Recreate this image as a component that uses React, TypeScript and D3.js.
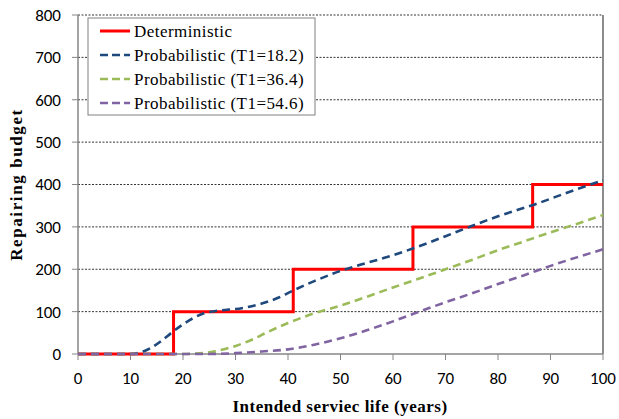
import React from "react";
import * as d3 from "d3";

const xTicks = [0, 10, 20, 30, 40, 50, 60, 70, 80, 90, 100];
const yTicks = [0, 100, 200, 300, 400, 500, 600, 700, 800];

const deterministic: [number, number][] = [
  [0, 0], [18.2, 0], [18.2, 100], [41.0, 100], [41.0, 200], [63.8, 200], [63.8, 300], [86.6, 300], [86.6, 400], [100, 400],
];
const prob182: [number, number][] = [
  [0, 0], [5, 0], [10, 0], [12, 4], [14, 15], [16, 32], [18, 52], [20, 70], [22, 85], [24, 96], [26, 101], [28, 104],
  [30, 106], [32, 110], [35, 119], [38, 132], [41, 150], [45, 172], [50, 196], [55, 215], [60, 233], [64, 250],
  [70, 278], [75, 302], [80, 325], [87, 353], [93, 380], [100, 410],
];
const prob364: [number, number][] = [
  [0, 0], [19, 0], [22, 1], [25, 4], [28, 12], [30, 19], [33, 33], [36, 51], [40, 73], [45, 96], [50, 114],
  [55, 135], [60, 157], [65, 178], [70, 200], [75, 222], [80, 245], [85, 266], [90, 287], [95, 307], [100, 328],
];
const prob546: [number, number][] = [
  [0, 0], [25, 0], [30, 2], [35, 6], [40, 11], [45, 22], [50, 37], [55, 56], [60, 77], [65, 100], [70, 122],
  [75, 143], [80, 165], [85, 186], [90, 208], [95, 228], [100, 247],
];

const seriesNames = ["Deterministic", "Probabilistic (T1=18.2)", "Probabilistic (T1=36.4)", "Probabilistic (T1=54.6)"];
const seriesColors = ["#FF0000", "#1F497D", "#9BBB59", "#8064A2"];

export default function App() {
  const W = 619, H = 419;
  const left = 78, right = 603, top = 15, bottom = 354;
  const x = d3.scaleLinear().domain([0, 100]).range([left, right]);
  const y = d3.scaleLinear().domain([0, 800]).range([bottom, top]);
  const lineStep = d3.line<[number, number]>().x(d => x(d[0])).y(d => y(d[1]));
  const lineCurve = d3.line<[number, number]>().x(d => x(d[0])).y(d => y(d[1])).curve(d3.curveMonotoneX);
  const tickFont = "Carlito";
  const serif = "Liberation Serif";

  return (
    <svg width={W} height={H} style={{ position: "absolute", left: 0, top: 0, background: "#fff" }}>
      <rect x={0} y={0} width={W} height={H} fill="#fff" />
      {/* gridlines */}
      {yTicks.filter(t => t > 0).map(t => (
        <line key={t} x1={left} x2={right} y1={y(t)} y2={y(t)} stroke="#000" strokeWidth={0.8} strokeDasharray="2,1.5" />
      ))}
      {/* right border */}
      <line x1={right} x2={right} y1={top} y2={bottom} stroke="#404040" strokeWidth={1.2} />
      {/* axes */}
      <line x1={left} x2={left} y1={top} y2={bottom} stroke="#868686" strokeWidth={1.5} />
      <line x1={left} x2={right} y1={bottom} y2={bottom} stroke="#868686" strokeWidth={1.5} />
      {yTicks.map(t => (
        <g key={t}>
          <line x1={left - 6} x2={left} y1={y(t)} y2={y(t)} stroke="#868686" strokeWidth={1} />
          <text x={61} y={y(t)} dy="0.35em" textAnchor="end" fontFamily={tickFont} fontSize={17} fill="#000">{t}</text>
        </g>
      ))}
      {xTicks.map(t => (
        <g key={t}>
          <line x1={x(t)} x2={x(t)} y1={bottom} y2={bottom + 6} stroke="#868686" strokeWidth={1} />
          <text x={x(t)} y={384} textAnchor="middle" fontFamily={tickFont} fontSize={17} fill="#000">{t}</text>
        </g>
      ))}
      {/* series */}
      <path d={lineStep(deterministic) || ""} fill="none" stroke={seriesColors[0]} strokeWidth={3} />
      {[prob182, prob364, prob546].map((s, i) => (
        <path key={i} d={lineCurve(s) || ""} fill="none" stroke={seriesColors[i + 1]} strokeWidth={2.6} strokeDasharray="8,5" />
      ))}
      {/* legend */}
      <rect x={88} y={18} width={227} height={97} fill="#fff" stroke="#808080" strokeWidth={1} />
      {seriesNames.map((n, i) => {
        const cy = 31 + i * 24;
        return (
          <g key={n}>
            <line x1={100} x2={130} y1={cy} y2={cy} stroke={seriesColors[i]} strokeWidth={i === 0 ? 3 : 2.6} strokeDasharray={i === 0 ? undefined : "8,4"} />
            <text x={134} y={cy} dy="0.33em" fontFamily={serif} fontSize={17} letterSpacing={0.45} fill="#000">{n}</text>
          </g>
        );
      })}
      {/* axis titles */}
      <text x={340} y={412} textAnchor="middle" fontFamily={serif} fontWeight="bold" fontSize={17} letterSpacing={0.5} fill="#000">Intended serviec life (years)</text>
      <text transform={`translate(22,${(top + bottom) / 2}) rotate(-90)`} textAnchor="middle" fontFamily={serif} fontWeight="bold" fontSize={17} letterSpacing={1.6} fill="#000">Repairing budget</text>
    </svg>
  );
}
